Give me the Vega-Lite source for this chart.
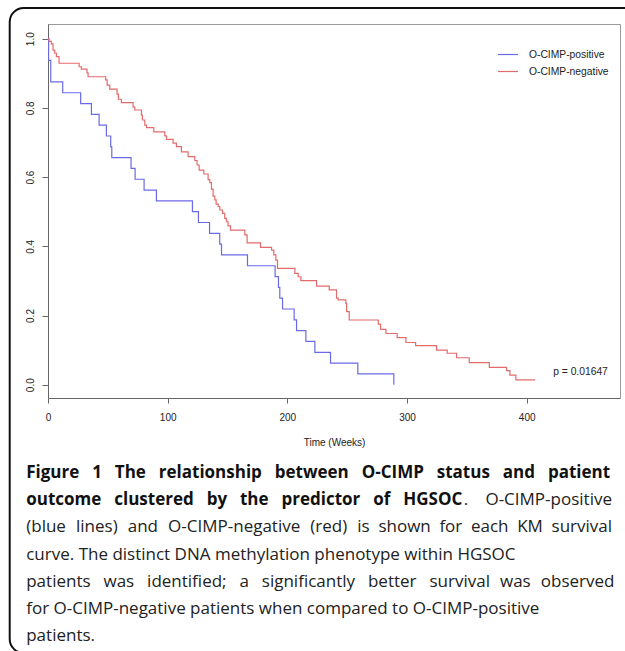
{
  "$schema": "https://vega.github.io/schema/vega-lite/v6.json",
  "width": 572,
  "height": 374,
  "autosize": {"type": "none"},
  "padding": {"left": 48, "top": 24, "right": 5, "bottom": 253},
  "background": "white",
  "config": {
    "view": {"stroke": "#9a9a9a", "strokeWidth": 1},
    "font": "Liberation Sans",
    "axis": {"grid": false, "domainColor": "#666", "tickColor": "#666", "labelColor": "#222", "titleColor": "#222", "labelFont": "Liberation Sans", "titleFont": "Liberation Sans", "labelFontSize": 10, "titleFontSize": 10, "titleFontWeight": "normal", "labelFlush": false, "labelOverlap": false, "labelBound": false}
  },
  "datasets": {
    "km": [
      {"group": "O-CIMP-positive", "time": 0, "surv": 1.0},
      {"group": "O-CIMP-positive", "time": 0.5, "surv": 0.9375},
      {"group": "O-CIMP-positive", "time": 2.3, "surv": 0.875},
      {"group": "O-CIMP-positive", "time": 12.3, "surv": 0.84375},
      {"group": "O-CIMP-positive", "time": 27.3, "surv": 0.8125},
      {"group": "O-CIMP-positive", "time": 36.3, "surv": 0.78125},
      {"group": "O-CIMP-positive", "time": 42.7, "surv": 0.75},
      {"group": "O-CIMP-positive", "time": 48.8, "surv": 0.71875},
      {"group": "O-CIMP-positive", "time": 52.4, "surv": 0.6875},
      {"group": "O-CIMP-positive", "time": 53.3, "surv": 0.65625},
      {"group": "O-CIMP-positive", "time": 69.4, "surv": 0.625},
      {"group": "O-CIMP-positive", "time": 72.8, "surv": 0.59375},
      {"group": "O-CIMP-positive", "time": 80.3, "surv": 0.5625},
      {"group": "O-CIMP-positive", "time": 90.6, "surv": 0.53125},
      {"group": "O-CIMP-positive", "time": 120.7, "surv": 0.5},
      {"group": "O-CIMP-positive", "time": 125.7, "surv": 0.46875},
      {"group": "O-CIMP-positive", "time": 135.0, "surv": 0.4375},
      {"group": "O-CIMP-positive", "time": 143.5, "surv": 0.40625},
      {"group": "O-CIMP-positive", "time": 145.0, "surv": 0.375},
      {"group": "O-CIMP-positive", "time": 166.7, "surv": 0.34375},
      {"group": "O-CIMP-positive", "time": 189.8, "surv": 0.3125},
      {"group": "O-CIMP-positive", "time": 192.6, "surv": 0.28125},
      {"group": "O-CIMP-positive", "time": 193.7, "surv": 0.25},
      {"group": "O-CIMP-positive", "time": 196.0, "surv": 0.21875},
      {"group": "O-CIMP-positive", "time": 205.7, "surv": 0.1875},
      {"group": "O-CIMP-positive", "time": 207.7, "surv": 0.15625},
      {"group": "O-CIMP-positive", "time": 215.5, "surv": 0.125},
      {"group": "O-CIMP-positive", "time": 223.0, "surv": 0.09375},
      {"group": "O-CIMP-positive", "time": 236.1, "surv": 0.0625},
      {"group": "O-CIMP-positive", "time": 258.9, "surv": 0.03125},
      {"group": "O-CIMP-positive", "time": 289.0, "surv": 0.0},
      {"group": "O-CIMP-negative", "time": 0, "surv": 1.0},
      {"group": "O-CIMP-negative", "time": 0.9, "surv": 0.992},
      {"group": "O-CIMP-negative", "time": 2.8, "surv": 0.985},
      {"group": "O-CIMP-negative", "time": 4.2, "surv": 0.967},
      {"group": "O-CIMP-negative", "time": 5.6, "surv": 0.958},
      {"group": "O-CIMP-negative", "time": 7.0, "surv": 0.948},
      {"group": "O-CIMP-negative", "time": 9.2, "surv": 0.929},
      {"group": "O-CIMP-negative", "time": 26.0, "surv": 0.919},
      {"group": "O-CIMP-negative", "time": 27.9, "surv": 0.912},
      {"group": "O-CIMP-negative", "time": 32.6, "surv": 0.901},
      {"group": "O-CIMP-negative", "time": 33.5, "surv": 0.89},
      {"group": "O-CIMP-negative", "time": 48.2, "surv": 0.881},
      {"group": "O-CIMP-negative", "time": 49.4, "surv": 0.866},
      {"group": "O-CIMP-negative", "time": 51.6, "surv": 0.854},
      {"group": "O-CIMP-negative", "time": 57.7, "surv": 0.84},
      {"group": "O-CIMP-negative", "time": 58.8, "surv": 0.825},
      {"group": "O-CIMP-negative", "time": 61.3, "surv": 0.815},
      {"group": "O-CIMP-negative", "time": 71.1, "surv": 0.802},
      {"group": "O-CIMP-negative", "time": 72.5, "surv": 0.794},
      {"group": "O-CIMP-negative", "time": 78.1, "surv": 0.779},
      {"group": "O-CIMP-negative", "time": 78.9, "surv": 0.765},
      {"group": "O-CIMP-negative", "time": 80.9, "surv": 0.75},
      {"group": "O-CIMP-negative", "time": 82.3, "surv": 0.743},
      {"group": "O-CIMP-negative", "time": 88.4, "surv": 0.731},
      {"group": "O-CIMP-negative", "time": 97.6, "surv": 0.719},
      {"group": "O-CIMP-negative", "time": 99.0, "surv": 0.709},
      {"group": "O-CIMP-negative", "time": 104.5, "surv": 0.698},
      {"group": "O-CIMP-negative", "time": 107.3, "surv": 0.688},
      {"group": "O-CIMP-negative", "time": 111.5, "surv": 0.673},
      {"group": "O-CIMP-negative", "time": 117.1, "surv": 0.659},
      {"group": "O-CIMP-negative", "time": 122.7, "surv": 0.648},
      {"group": "O-CIMP-negative", "time": 124.6, "surv": 0.635},
      {"group": "O-CIMP-negative", "time": 126.3, "surv": 0.62},
      {"group": "O-CIMP-negative", "time": 130.2, "surv": 0.609},
      {"group": "O-CIMP-negative", "time": 133.8, "surv": 0.593},
      {"group": "O-CIMP-negative", "time": 135.2, "surv": 0.584},
      {"group": "O-CIMP-negative", "time": 136.6, "surv": 0.565},
      {"group": "O-CIMP-negative", "time": 138.0, "surv": 0.545},
      {"group": "O-CIMP-negative", "time": 139.4, "surv": 0.534},
      {"group": "O-CIMP-negative", "time": 140.5, "surv": 0.522},
      {"group": "O-CIMP-negative", "time": 142.2, "surv": 0.515},
      {"group": "O-CIMP-negative", "time": 143.6, "surv": 0.505},
      {"group": "O-CIMP-negative", "time": 145.8, "surv": 0.495},
      {"group": "O-CIMP-negative", "time": 147.7, "surv": 0.481},
      {"group": "O-CIMP-negative", "time": 149.1, "surv": 0.471},
      {"group": "O-CIMP-negative", "time": 150.5, "surv": 0.459},
      {"group": "O-CIMP-negative", "time": 152.5, "surv": 0.447},
      {"group": "O-CIMP-negative", "time": 164.5, "surv": 0.433},
      {"group": "O-CIMP-negative", "time": 166.4, "surv": 0.41},
      {"group": "O-CIMP-negative", "time": 177.6, "surv": 0.397},
      {"group": "O-CIMP-negative", "time": 186.8, "surv": 0.389},
      {"group": "O-CIMP-negative", "time": 188.7, "surv": 0.375},
      {"group": "O-CIMP-negative", "time": 190.4, "surv": 0.36},
      {"group": "O-CIMP-negative", "time": 191.8, "surv": 0.336},
      {"group": "O-CIMP-negative", "time": 206.3, "surv": 0.322},
      {"group": "O-CIMP-negative", "time": 209.1, "surv": 0.312},
      {"group": "O-CIMP-negative", "time": 211.3, "surv": 0.301},
      {"group": "O-CIMP-negative", "time": 224.4, "surv": 0.285},
      {"group": "O-CIMP-negative", "time": 235.0, "surv": 0.274},
      {"group": "O-CIMP-negative", "time": 241.1, "surv": 0.25},
      {"group": "O-CIMP-negative", "time": 242.5, "surv": 0.245},
      {"group": "O-CIMP-negative", "time": 248.9, "surv": 0.235},
      {"group": "O-CIMP-negative", "time": 249.5, "surv": 0.211},
      {"group": "O-CIMP-negative", "time": 251.7, "surv": 0.187},
      {"group": "O-CIMP-negative", "time": 276.0, "surv": 0.175},
      {"group": "O-CIMP-negative", "time": 277.9, "surv": 0.16},
      {"group": "O-CIMP-negative", "time": 282.4, "surv": 0.148},
      {"group": "O-CIMP-negative", "time": 291.8, "surv": 0.136},
      {"group": "O-CIMP-negative", "time": 299.1, "surv": 0.122},
      {"group": "O-CIMP-negative", "time": 307.2, "surv": 0.113},
      {"group": "O-CIMP-negative", "time": 324.7, "surv": 0.1},
      {"group": "O-CIMP-negative", "time": 333.6, "surv": 0.091},
      {"group": "O-CIMP-negative", "time": 341.4, "surv": 0.078},
      {"group": "O-CIMP-negative", "time": 352.0, "surv": 0.064},
      {"group": "O-CIMP-negative", "time": 368.8, "surv": 0.05},
      {"group": "O-CIMP-negative", "time": 383.2, "surv": 0.041},
      {"group": "O-CIMP-negative", "time": 386.0, "surv": 0.028},
      {"group": "O-CIMP-negative", "time": 391.0, "surv": 0.014},
      {"group": "O-CIMP-negative", "time": 407.0, "surv": 0.014}
    ],
    "caption": [
      {"line": 1, "kind": "bold", "text": "Figure \u2006\u2006\u20091 \u2006\u2006\u2009The \u2006\u2006\u2009relationship \u2006\u2006\u2009between \u2006\u2006\u2009O-CIMP \u2006\u2006\u2009status \u2006\u2006\u2009and \u2006\u2006\u2009patient"},
      {"line": 2, "kind": "bold", "text": "outcome \u2005\u2005clustered \u2005\u2005by \u2005\u2005the \u2005\u2005predictor \u2005\u2005of \u2005\u2005HGSOC"},
      {"line": 2, "kind": "tail", "text": ". \u2004\u2005\u2009O-CIMP-positive"},
      {"line": 3, "kind": "plain", "text": "(blue \u2004lines) \u2004and \u2004O-CIMP-negative \u2004(red) \u2004is \u2005shown \u2005for \u2005each \u2005KM \u2005survival"},
      {"line": 4, "kind": "plain", "text": "curve. The distinct DNA methylation phenotype within HGSOC"},
      {"line": 5, "kind": "plain", "text": "patients \u2005\u2005was \u2005\u2005identified; \u2005\u2005a \u2005\u2005significantly \u2005\u2005better \u2005\u2005survival \u2009\u2009was \u2009\u2009observed"},
      {"line": 6, "kind": "plain", "text": "for O-CIMP-negative patients when compared to O-CIMP-positive"},
      {"line": 7, "kind": "plain", "text": "patients."}
    ]
  },
  "layer": [
    {
      "layer": [
        {
          "data": {"values": [{"frame": "border"}]},
          "mark": {"type": "rect", "fill": "white", "fillOpacity": 0, "stroke": "#111", "strokeWidth": 2, "cornerRadius": 14, "clip": false},
          "encoding": {
            "x": {"datum": -32},
            "x2": {"datum": 520},
            "y": {"datum": 1.0887},
            "y2": {"datum": -0.7754}
          }
        },
        {
          "data": {"name": "km"},
          "mark": {"type": "line", "interpolate": "step-after", "strokeWidth": 1.2},
          "encoding": {
            "x": {"field": "time", "type": "quantitative", "scale": {"domain": [0, 478], "nice": false, "zero": false},
                  "axis": {"values": [0, 100, 200, 300, 400], "tickSize": 5, "labelPadding": 9, "title": "Time (Weeks)", "titlePadding": 15}},
            "y": {"field": "surv", "type": "quantitative", "scale": {"domain": [-0.0384, 1.0425], "nice": false, "zero": false},
                  "axis": {"values": [0, 0.2, 0.4, 0.6, 0.8, 1.0], "format": ".1f", "tickSize": 6, "labelPadding": 7, "labelAngle": -90, "labelAlign": "center", "labelBaseline": "bottom", "title": null}},
            "color": {"field": "group", "type": "nominal",
                      "scale": {"domain": ["O-CIMP-positive", "O-CIMP-negative"], "range": ["#6a6ae6", "#e36b6b"]},
                      "legend": {"title": null, "orient": "none", "legendX": 449, "legendY": 19.5, "symbolType": "stroke", "symbolSize": 400, "symbolStrokeWidth": 1.2, "labelFont": "Liberation Sans", "labelFontSize": 10.3, "labelColor": "#222", "labelOffset": 10, "rowPadding": -1, "padding": 0}}
          }
        },
        {
          "data": {"values": [{"label": "p = 0.01647"}]},
          "mark": {"type": "text", "font": "Liberation Sans", "fontSize": 10.3, "color": "#222", "align": "center", "baseline": "middle"},
          "encoding": {
            "x": {"datum": 445},
            "y": {"datum": 0.036},
            "text": {"field": "label"}
          }
        }
      ]
    },
    {
      "data": {"name": "caption"},
      "encoding": {
        "y": {"field": "line", "type": "quantitative", "scale": {"domain": [-15.54, -1.765], "reverse": true, "nice": false, "zero": false}, "axis": null},
        "text": {"field": "text"}
      },
      "layer": [
        {
          "transform": [{"filter": "datum.kind == 'bold'"}],
          "mark": {"type": "text", "font": "Open Sans", "fontSize": 17, "fontWeight": "bold", "color": "#111", "align": "left", "baseline": "middle", "clip": false},
          "encoding": {"x": {"datum": -18.2}}
        },
        {
          "transform": [{"filter": "datum.kind == 'plain'"}],
          "mark": {"type": "text", "font": "Open Sans", "fontSize": 17, "color": "#222", "align": "left", "baseline": "middle", "clip": false},
          "encoding": {"x": {"datum": -18.2}}
        },
        {
          "transform": [{"filter": "datum.kind == 'tail'"}],
          "mark": {"type": "text", "font": "Open Sans", "fontSize": 17, "color": "#222", "align": "right", "baseline": "middle", "clip": false},
          "encoding": {"x": {"datum": 471.3}}
        }
      ]
    }
  ],
  "resolve": {"scale": {"y": "independent"}}
}
